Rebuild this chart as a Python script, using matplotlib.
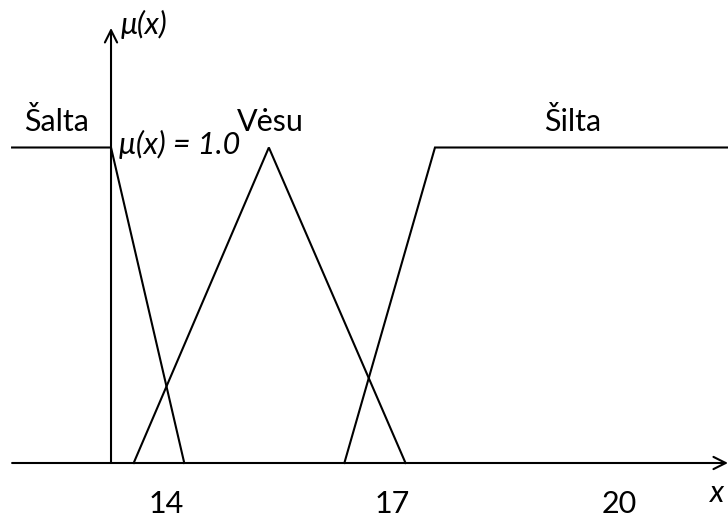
import matplotlib.pyplot as plt

plt.rcParams['font.family'] = ['Lato', 'DejaVu Sans']

# membership functions (temperature -> degree)
salta_x = [11.96, 13.27, 14.24]
salta_mu = [1.0, 1.0, 0.0]
vesu_x = [13.57, 15.36, 17.17]
vesu_mu = [0.0, 1.0, 0.0]
silta_x = [16.36, 17.56, 21.5]
silta_mu = [0.0, 1.0, 1.0]

tick_values = [14, 17, 20]
tick_labels = ['14', '17', '20']

fig = plt.figure(figsize=(7.28, 5.19), dpi=100)
ax = fig.add_axes([0, 0, 1, 1])
ax.set_xlim(11.80, 21.44)
ax.set_ylim(-0.1775, 1.4675)
ax.axis('off')

lw = 1.5
fs = 22
for xs, ys in [(salta_x, salta_mu), (vesu_x, vesu_mu), (silta_x, silta_mu)]:
    ax.plot(xs, ys, color='black', lw=lw, solid_joinstyle='miter')

# axes with open arrow heads
arrow = dict(arrowstyle='->', color='black', lw=lw, mutation_scale=22,
             shrinkA=0, shrinkB=0)
ax.annotate('', xy=(21.44, 0), xytext=(11.96, 0), arrowprops=arrow)
ax.annotate('', xy=(13.27, 1.379), xytext=(13.27, 0), arrowprops=arrow)

for v, lab in zip(tick_values, tick_labels):
    ax.text(v, -0.160, lab, ha='center', va='baseline', fontsize=fs)

ax.text(13.40, 1.36, 'μ(x)', ha='left', va='baseline', fontsize=fs, style='italic')
ax.text(21.30, -0.124, 'x', ha='center', va='baseline', fontsize=fs, style='italic')
ax.text(13.37, 0.979, 'μ(x) = 1.0', ha='left', va='baseline', fontsize=fs, style='italic')

ax.text(12.55, 1.052, 'Šalta', ha='center', va='baseline', fontsize=fs)
ax.text(15.38, 1.052, 'Vėsu', ha='center', va='baseline', fontsize=fs)
ax.text(19.38, 1.052, 'Šilta', ha='center', va='baseline', fontsize=fs)

fig.savefig('out.png', dpi=100)
